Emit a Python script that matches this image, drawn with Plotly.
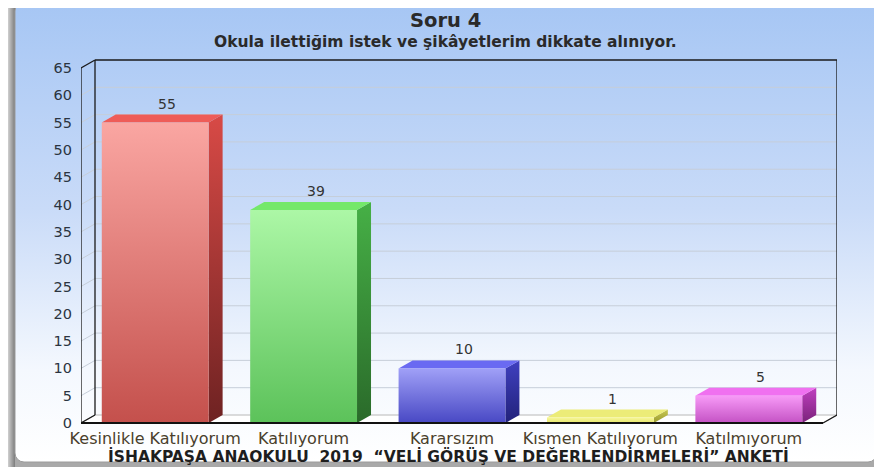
import urllib.parse
import plotly.graph_objects as go

# veriler
categories = ["Kesinlikle Katılıyorum", "Katılıyorum", "Kararsızım",
              "Kısmen Katılıyorum", "Katılmıyorum"]
values = [55, 39, 10, 1, 5]
y_ticks = list(range(0, 70, 5))

# renkler (ön yüz üst/alt, yan yüz üst/alt, üst yüz)
front_top = ["#faa6a2", "#acf7a6", "#a0a0f7", "#f7f79a", "#f79af7"]
front_bot = ["#c4504c", "#5cc25a", "#4848c4", "#e6e66a", "#c452c4"]
side_top = ["#d84a46", "#46b046", "#4040c0", "#c8c850", "#c040c0"]
side_bot = ["#6e2222", "#2a6a2a", "#22227a", "#9a9a30", "#7a227a"]
top_col = ["#ee5c58", "#74e86a", "#6a6af2", "#ecec78", "#f070f0"]

# sayfa kenar boşluğu (body margin) telafisi
OFF = 8
W, H = 882 - OFF, 467 - OFF
# çizim alanı (sayfa pikseli -> figür pikseli)
PX_L, PX_R, PX_T, PX_B = 81 - OFF, 837 - OFF, 58 - OFF, 425 - OFF
FRONT_R, ZERO_PX, TOP_PX = 823 - OFF, 423 - OFF, 68 - OFF
ppx = (FRONT_R - PX_L) / len(categories)
ppy = (ZERO_PX - TOP_PX) / 65
X0 = -0.5
X1 = X0 + (PX_R - PX_L) / ppx
Y0 = -(PX_B - ZERO_PX) / ppy
Y1 = 65 + (TOP_PX - PX_T) / ppy
DX = 14 / ppx
DY = 8 / ppy
BW = 0.72
XR = len(categories) - 0.5

px_ = 15 - OFF
svg = f"""<svg xmlns='http://www.w3.org/2000/svg' width='{W}' height='{H}' viewBox='0 0 {W} {H}' preserveAspectRatio='none'>
<defs>
<linearGradient id='g' x1='0' y1='0' x2='0' y2='1'>
<stop offset='0' stop-color='#a6c6f4'/><stop offset='0.45' stop-color='#c9dbf8'/>
<stop offset='0.8' stop-color='#f4f8fe'/><stop offset='1' stop-color='#ffffff'/></linearGradient>
<linearGradient id='l' x1='0' y1='0' x2='1' y2='0'>
<stop offset='0' stop-color='#d0d0d0'/><stop offset='1' stop-color='#7c7c7c'/></linearGradient>
</defs>
<rect width='{W}' height='{H}' fill='#a9a9a9'/>
<rect width='{px_}' height='{H}' fill='url(#l)'/>
<rect x='{px_}' y='-6' width='{W - px_ - 5}' height='{462 - OFF + 6}' rx='9' fill='url(#g)' stroke='#9c9c9c'/>
</svg>"""
bg_src = "data:image/svg+xml;charset=utf-8," + urllib.parse.quote(svg)

fig = go.Figure()

for i, v in enumerate(values):
    xl, xr = i - BW / 2, i + BW / 2
    # yan yüz
    fig.add_trace(go.Scatter(
        x=[xr, xr + DX, xr + DX, xr, xr], y=[0, DY, v + DY, v, 0],
        mode="lines", line=dict(width=0), fill="toself",
        fillgradient=dict(type="vertical", start=0, stop=v + DY,
                          colorscale=[[0, side_bot[i]], [1, side_top[i]]]),
        hoverinfo="skip", showlegend=False))
    # üst yüz
    fig.add_trace(go.Scatter(
        x=[xl, xr, xr + DX, xl + DX, xl], y=[v, v, v + DY, v + DY, v],
        mode="lines", line=dict(width=0), fill="toself", fillcolor=top_col[i],
        hoverinfo="skip", showlegend=False))
    # ön yüz
    fig.add_trace(go.Scatter(
        x=[xl, xr, xr, xl, xl], y=[0, 0, v, v, 0],
        mode="lines", line=dict(width=0), fill="toself",
        fillgradient=dict(type="vertical", start=0, stop=max(v, 1),
                          colorscale=[[0, front_bot[i]], [1, front_top[i]]]),
        hoverinfo="skip", showlegend=False))
    fig.add_annotation(x=i + DX * 0.85, y=v + DY, text=str(v), showarrow=False,
                       yanchor="bottom", yshift=1,
                       font=dict(family="DejaVu Sans", size=14, color="#333333"))

shapes = []
# zemin
shapes.append(dict(type="path", xref="x", yref="y", layer="below",
                   path=f"M {X0},0 L {XR},0 L {XR + DX},{DY} L {X0 + DX},{DY} Z",
                   fillcolor="#ffffff", line=dict(color="#b8b8b8", width=1)))
# ızgara çizgileri
for t in y_ticks[1:-1]:
    shapes.append(dict(type="line", xref="x", yref="y", layer="below",
                       x0=X0 + DX, x1=XR + DX, y0=t + DY, y1=t + DY,
                       line=dict(color="#c6ced9", width=1)))
    shapes.append(dict(type="line", xref="x", yref="y", layer="below",
                       x0=X0, x1=X0 + DX, y0=t, y1=t + DY,
                       line=dict(color="#c6ced9", width=1)))
# çerçeve
frame = [
    (X0, 0, X0, 65), (X0, 65, X0 + DX, 65 + DY), (X0 + DX, 65 + DY, XR + DX, 65 + DY),
    (XR + DX, 65 + DY, XR + DX, DY), (XR, 0, XR + DX, DY),
    (X0 + DX, DY, X0 + DX, 65 + DY), (X0, 0, X0 + DX, DY),
]
for a, b, c, d in frame:
    shapes.append(dict(type="line", xref="x", yref="y", layer="above",
                       x0=a, y0=b, x1=c, y1=d, line=dict(color="#1a1a1a", width=1.3)))
shapes.append(dict(type="line", xref="x", yref="y", layer="above",
                   x0=X0, y0=0, x1=XR, y1=0, line=dict(color="#111111", width=2)))

fig.update_layout(
    width=W, height=H,
    margin=dict(l=0, r=0, t=0, b=0, pad=0, autoexpand=False),
    paper_bgcolor="#ffffff",
    plot_bgcolor="rgba(0,0,0,0)",
    shapes=shapes,
    images=[dict(source=bg_src, xref="paper", yref="paper", x=0, y=1,
                 sizex=1, sizey=1, sizing="stretch", layer="below",
                 xanchor="left", yanchor="top")],
    xaxis=dict(domain=[PX_L / W, PX_R / W], range=[X0, X1], automargin=False,
               tickvals=list(range(len(categories))), ticktext=categories,
               showgrid=False, zeroline=False, showline=False, ticks="",
               ticklabelstandoff=2,
               tickfont=dict(family="DejaVu Sans", size=16, color="#4a3f2c")),
    yaxis=dict(domain=[1 - PX_B / H, 1 - PX_T / H], range=[Y0, Y1], automargin=False,
               tickvals=y_ticks, showgrid=False, zeroline=False, showline=False,
               ticks="", ticklabelstandoff=8,
               tickfont=dict(family="DejaVu Sans", size=14.5, color="#2b3440")),
    font=dict(family="DejaVu Sans"),
)

fig.add_annotation(xref="paper", yref="paper", x=(445 - OFF) / W, y=1 - (20 - OFF) / H,
                   text="Soru 4", showarrow=False, yanchor="middle",
                   font=dict(family="DejaVu Sans", size=19.5, color="#2a2a2a", weight=700))
fig.add_annotation(xref="paper", yref="paper", x=(445 - OFF) / W, y=1 - (42 - OFF) / H,
                   text="Okula ilettiğim istek ve şikâyetlerim dikkate alınıyor.",
                   showarrow=False, yanchor="middle",
                   font=dict(family="DejaVu Sans", size=15.5, color="#2a2a2a", weight=700))
fig.add_annotation(xref="paper", yref="paper", x=(448 - OFF) / W, y=1 - (456 - OFF) / H,
                   text="İSHAKPAŞA ANAOKULU  2019  “VELİ GÖRÜŞ VE DEĞERLENDİRMELERİ” ANKETİ",
                   showarrow=False, yanchor="middle",
                   font=dict(family="DejaVu Sans", size=15.5, color="#1e1e1e", weight=700))

fig.write_html("out.html")
